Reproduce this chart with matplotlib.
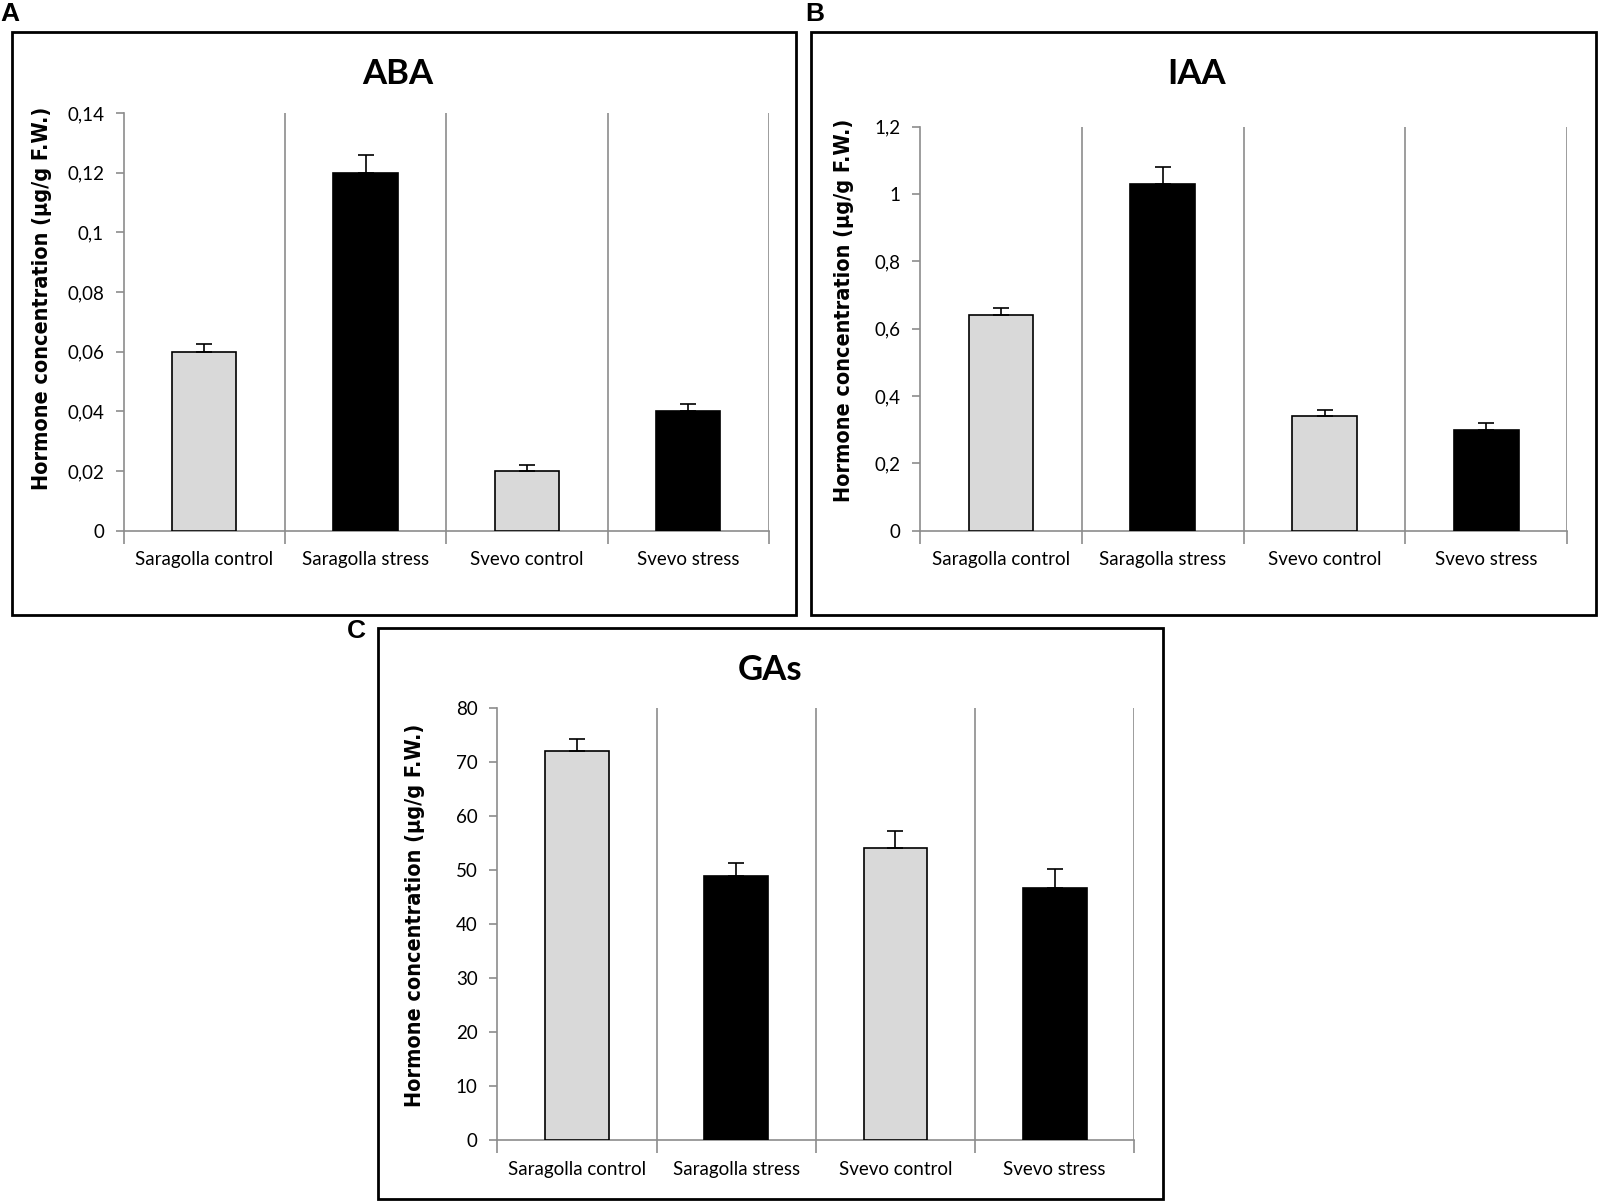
import matplotlib
matplotlib.use("Agg")
import matplotlib.pyplot as plt
from matplotlib.patches import Rectangle

categories = ["Saragolla control", "Saragolla stress", "Svevo control", "Svevo stress"]

aba_values = [0.060, 0.120, 0.020, 0.040]
aba_errors = [0.0025, 0.006, 0.002, 0.0025]
aba_ticks = [0, 0.02, 0.04, 0.06, 0.08, 0.10, 0.12, 0.14]
aba_ticklabels = ["0", "0,02", "0,04", "0,06", "0,08", "0,1", "0,12", "0,14"]

iaa_values = [0.64, 1.03, 0.34, 0.30]
iaa_errors = [0.02, 0.05, 0.018, 0.02]
iaa_ticks = [0, 0.2, 0.4, 0.6, 0.8, 1.0, 1.2]
iaa_ticklabels = ["0", "0,2", "0,4", "0,6", "0,8", "1", "1,2"]

gas_values = [72.0, 48.8, 54.0, 46.6]
gas_errors = [2.2, 2.5, 3.3, 3.5]
gas_ticks = [0, 10, 20, 30, 40, 50, 60, 70, 80]
gas_ticklabels = ["0", "10", "20", "30", "40", "50", "60", "70", "80"]

bar_colors = ["#d9d9d9", "#000000", "#d9d9d9", "#000000"]
GRAY = "#8c8c8c"
TICKFONT = "Lato"

fig = plt.figure(figsize=(16.01, 12.04), dpi=100)

W, H = 1568.0, 1180.0
def fx(x): return x / W
def fy(y): return 1 - y / H

# panel frames
frames = [(12, 31, 780, 603), (794, 31, 1563, 603), (370, 615, 1139, 1175)]
for (x0, y0, x1, y1) in frames:
    fig.patches.append(Rectangle((fx(x0), fy(y1)), fx(x1) - fx(x0), fy(y0) - fy(y1),
                                 transform=fig.transFigure, fill=False,
                                 edgecolor="black", linewidth=2.0, zorder=0))

panels = [
    dict(rect=(121, 111, 753, 520), values=aba_values, errors=aba_errors,
         ticks=aba_ticks, labels=aba_ticklabels, title="ABA",
         title_xy=(390, 73), ylab_xy=(41, 292), letter="A", letter_xy=(0, 2)),
    dict(rect=(901, 124, 1535, 520), values=iaa_values, errors=iaa_errors,
         ticks=iaa_ticks, labels=iaa_ticklabels, title="IAA",
         title_xy=(1172, 73), ylab_xy=(827, 304), letter="B", letter_xy=(789, 2)),
    dict(rect=(487, 694, 1111, 1117), values=gas_values, errors=gas_errors,
         ticks=gas_ticks, labels=gas_ticklabels, title="GAs",
         title_xy=(754, 657), ylab_xy=(406, 897), letter="C", letter_xy=(340, 607)),
]

x = list(range(len(categories)))
for p in panels:
    l, t, r, b = p["rect"]
    ax = fig.add_axes([fx(l), fy(b), fx(r) - fx(l), fy(t) - fy(b)])
    ax.bar(x, p["values"], width=0.4, color=bar_colors, edgecolor="black",
           linewidth=1.2, zorder=3)
    ax.errorbar(x, p["values"], yerr=[[0] * 4, p["errors"]], fmt="none",
                ecolor="black", elinewidth=1.2, capsize=6, capthick=1.2, zorder=4)
    ax.set_xlim(-0.5, 3.5)
    ax.set_ylim(p["ticks"][0], p["ticks"][-1])
    for bx in [0.5, 1.5, 2.5, 3.5]:
        ax.axvline(bx, color=GRAY, linewidth=1.2, zorder=1)
    for s in ["top", "right"]:
        ax.spines[s].set_visible(False)
    for s in ["left", "bottom"]:
        ax.spines[s].set_color(GRAY)
        ax.spines[s].set_linewidth(1.2)
    ax.set_yticks(p["ticks"])
    ax.set_yticklabels(p["labels"], fontsize=13.5, fontfamily=TICKFONT)
    ax.tick_params(axis="y", direction="out", length=6, color=GRAY, width=1.2, pad=8)
    ax.set_xticks([-0.5, 0.5, 1.5, 2.5, 3.5])
    ax.set_xticklabels([])
    ax.tick_params(axis="x", which="major", direction="out", length=9, color=GRAY, width=1.2)
    ax.set_xticks(x, minor=True)
    ax.set_xticklabels(categories, minor=True, fontsize=13.5, fontfamily=TICKFONT)
    ax.tick_params(axis="x", which="minor", length=0, pad=15)
    fig.text(fx(p["title_xy"][0]), fy(p["title_xy"][1]), p["title"], ha="center",
             va="center", fontsize=25, fontweight="bold", fontfamily=TICKFONT)
    fig.text(fx(p["ylab_xy"][0]), fy(p["ylab_xy"][1]),
             "Hormone concentration (\u00b5g/g F.W.)", rotation=90, ha="center",
             va="center", fontsize=15.5, fontweight="bold", fontstretch="condensed",
             fontfamily="DejaVu Sans")
    fig.text(fx(p["letter_xy"][0]), fy(p["letter_xy"][1]), p["letter"], ha="left",
             va="top", fontsize=19, fontweight="bold", fontfamily="Liberation Sans")

fig.savefig("out.png", dpi=100, facecolor="white")
